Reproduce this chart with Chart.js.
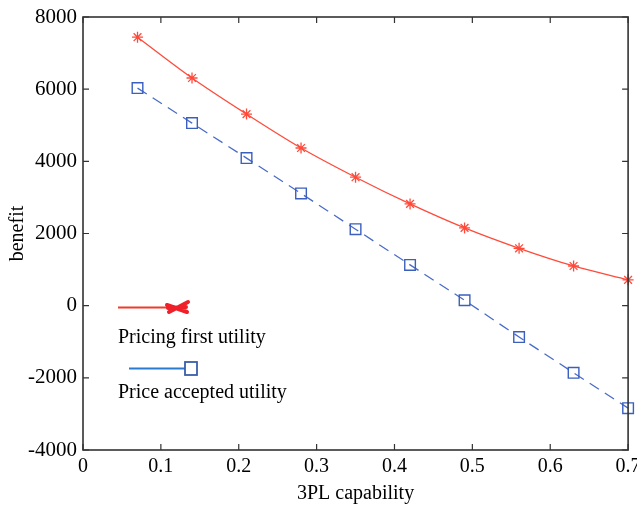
<!DOCTYPE html>
<html>
<head>
<meta charset="utf-8">
<script src="https://cdn.jsdelivr.net/npm/chart.js@4.4.0/dist/chart.umd.min.js"></script>
<style>
  html, body { margin: 0; padding: 0; background: #fff; }
  #wrap { width: 637px; height: 506px; }
</style>
</head>
<body>
<div id="wrap"><canvas id="graph_benefit"></canvas></div>
<script>
// 3PL capability on the x axis
var capability = [0.07, 0.14, 0.21, 0.28, 0.35, 0.42, 0.49, 0.56, 0.63, 0.70];
var pricingFirst = [7440, 6310, 5310, 4370, 3560, 2820, 2155, 1590, 1100, 715];
var priceAccepted = [6030, 5060, 4090, 3110, 2120, 1130, 150, -870, -1860, -2840];
var xTicks = [0, 0.1, 0.2, 0.3, 0.4, 0.5, 0.6, 0.7];
var yTicks = [-4000, -2000, 0, 2000, 4000, 6000, 8000];
var seriesNames = ["Pricing first utility", "Price accepted utility"];

Chart.defaults.font.family = "'Liberation Serif', 'DejaVu Serif', serif";
Chart.defaults.color = "#000";

function toPoints(xs, ys) {
    return xs.map(function (x, i) { return { x: x, y: ys[i] }; });
}

// matlab style box + inward tick marks
var boxPlugin = {
    id: 'box',
    afterDraw: function (chart) {
        var c = chart.ctx, a = chart.chartArea;
        var sx = chart.scales.x, sy = chart.scales.y;
        c.save();
        c.strokeStyle = "#333";
        c.lineWidth = 1.6;
        c.strokeRect(a.left, a.top, a.right - a.left, a.bottom - a.top);
        c.lineWidth = 1.2;
        c.beginPath();
        xTicks.forEach(function (v) {
            var px = sx.getPixelForValue(v);
            c.moveTo(px, a.bottom); c.lineTo(px, a.bottom - 6);
            c.moveTo(px, a.top); c.lineTo(px, a.top + 6);
        });
        yTicks.forEach(function (v) {
            var py = sy.getPixelForValue(v);
            c.moveTo(a.left, py); c.lineTo(a.left + 6, py);
            c.moveTo(a.right, py); c.lineTo(a.right - 6, py);
        });
        c.stroke();
        c.restore();
    }
};

// the odd hand-drawn legend in the lower left
var legendPlugin = {
    id: 'oddLegend',
    afterDraw: function (chart) {
        var c = chart.ctx;
        c.save();
        // red entry
        c.strokeStyle = "#f03a2a";
        c.lineWidth = 2;
        c.beginPath(); c.moveTo(118, 307.5); c.lineTo(172, 307.5); c.stroke();
        c.strokeStyle = "#f0202a";
        c.lineWidth = 4;
        c.lineCap = "round";
        c.beginPath();
        c.moveTo(167, 305); c.lineTo(187, 312);
        c.moveTo(169, 312); c.lineTo(188, 302);
        c.moveTo(168, 308); c.lineTo(186, 307);
        c.stroke();
        // blue entry
        c.lineCap = "butt";
        c.strokeStyle = "#2a7ad0";
        c.lineWidth = 2;
        c.beginPath(); c.moveTo(129, 368.5); c.lineTo(185, 368.5); c.stroke();
        c.strokeStyle = "#3a5fa8";
        c.lineWidth = 1.8;
        c.strokeRect(185, 362, 12, 13);
        c.fillStyle = "#000";
        c.font = "20px 'Liberation Serif'";
        c.textBaseline = "alphabetic";
        c.fillText(seriesNames[0], 118, 343);
        c.fillText(seriesNames[1], 118, 398);
        c.restore();
    }
};

var ctx = document.getElementById("graph_benefit");

var myChart_benefit = new Chart(ctx, {
    type: 'line',
    data: {
        datasets: [{
            label: seriesNames[0],
            data: toPoints(capability, pricingFirst),
            borderColor: "#ff4a3a",
            backgroundColor: "#ff4a3a",
            borderWidth: 1.3,
            pointStyle: 'star',
            pointRadius: 5.5,
            pointBorderWidth: 1.3,
            cubicInterpolationMode: 'monotone',
            fill: false
        }, {
            label: seriesNames[1],
            data: toPoints(capability, priceAccepted),
            borderColor: "#4a6cc8",
            backgroundColor: "rgba(0,0,0,0)",
            borderWidth: 1.3,
            borderDash: [11, 7],
            pointStyle: 'rect',
            pointRadius: 7.5,
            pointBorderWidth: 1.4,
            pointBorderColor: "#3a5fbd",
            tension: 0,
            fill: false
        }]
    },
    options: {
        responsive: true,
        maintainAspectRatio: false,
        animation: false,
        clip: false,
        plugins: {
            legend: { display: false },
            tooltip: { enabled: false }
        },
        layout: {
            padding: { left: 0, right: 6, top: 17, bottom: 0 }
        },
        scales: {
            x: {
                type: 'linear',
                min: 0,
                max: 0.7,
                afterBuildTicks: function (s) { s.ticks = xTicks.map(function (v) { return { value: v }; }); },
                afterFit: function (s) { s.height = 56; s.paddingLeft = 0; s.paddingRight = 0; },
                grid: { display: false, drawTicks: false },
                border: { display: false },
                ticks: {
                    padding: 5,
                    font: { size: 20 },
                    callback: function (v) { return String(Math.round(v * 10) / 10); }
                },
                title: {
                    display: true,
                    text: '3PL capability',
                    font: { size: 20 },
                    padding: { top: 0, bottom: 0 }
                }
            },
            y: {
                type: 'linear',
                min: -4000,
                max: 8000,
                afterBuildTicks: function (s) { s.ticks = yTicks.map(function (v) { return { value: v }; }); },
                afterFit: function (s) { s.width = 83; s.paddingTop = 0; s.paddingBottom = 0; },
                grid: { display: false, drawTicks: false },
                border: { display: false },
                ticks: {
                    padding: 6,
                    font: { size: 21 },
                    callback: function (v) { return String(v); }
                },
                title: {
                    display: true,
                    text: 'benefit',
                    font: { size: 20 },
                    padding: { top: 6, bottom: 0 }
                }
            }
        }
    },
    plugins: [boxPlugin, legendPlugin]
});
</script>
</body>
</html>
